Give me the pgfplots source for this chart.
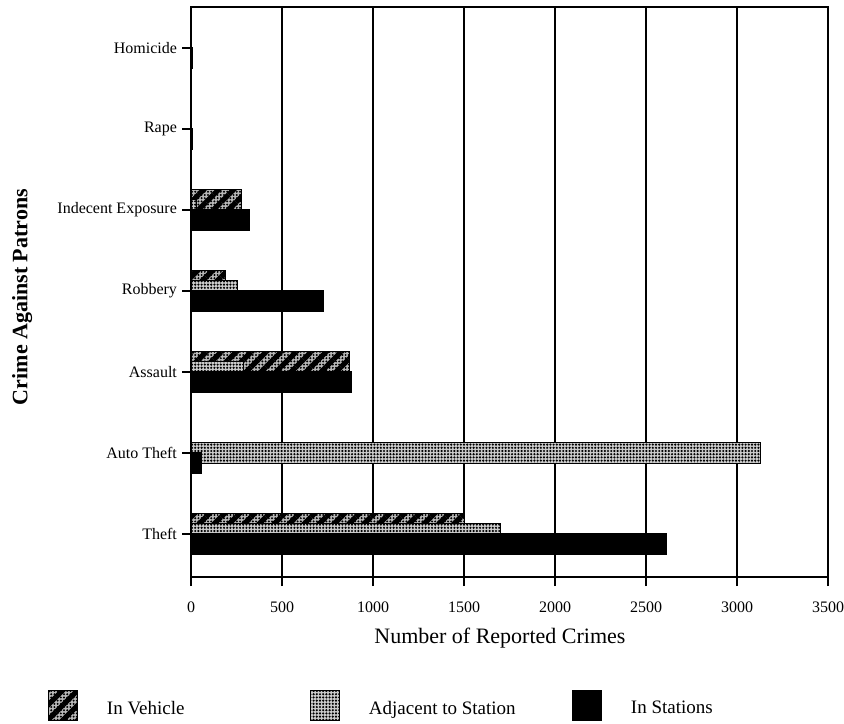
\documentclass[border=0pt]{standalone}
\usepackage{fontspec}
\setmainfont{Liberation Serif}
\usepackage{pgfplots}
\pgfplotsset{compat=1.18}
\usetikzlibrary{patterns.meta}

% Reported crimes by location (value per category, Theft = 0 ... Homicide = 6)
\pgfplotstableread{
y  val
0  1500
1  0
2  870
3  190
4  275
5  4
6  5
}\invehicle
\pgfplotstableread{
y  val
0  1700
1  3130
2  290
3  255
4  30
5  2
6  3
}\adjacent
\pgfplotstableread{
y  val
0  2610
1  60
2  880
3  730
4  320
5  6
6  8
}\instations

\tikzset{
  vehiclefill/.style={draw=black, line width=0.5pt, fill=gray!55,
    postaction={pattern={Dots[distance=1.6pt,radius=0.55pt]}, pattern color=black},
    postaction={pattern={Lines[angle=45,distance=5.3pt,line width=2.6pt]}, pattern color=black}},
  adjacentfill/.style={draw=black, line width=0.5pt, fill=gray!40,
    postaction={pattern={Dots[distance=1.6pt,radius=0.6pt]}, pattern color=black}},
  stationfill/.style={draw=black, line width=0.5pt, fill=black},
}

\begin{document}
\begin{tikzpicture}
\path[use as bounding box] (0,0) rectangle (422pt,361.5pt);
\begin{axis}[
  at={(95.5pt,73pt)}, anchor=south west,
  scale only axis, width=318.5pt, height=285pt,
  xmin=0, xmax=3500, ymin=-0.53, ymax=6.506,
  xtick={0,500,...,3500},
  ytick={0,1,2,3,4,5,6},
  yticklabels={Theft, Auto Theft, Assault, Robbery, Indecent Exposure, Rape, Homicide},
  xbar, bar width=0.26,
  xmajorgrids, major grid style={black, line width=0.6pt},
  axis line style={black, line width=0.8pt},
  tick align=outside, xtick pos=lower, ytick pos=left,
  major tick length=4.5pt,
  tick style={black, line width=0.6pt},
  scaled x ticks=false,
  /pgf/number format/1000 sep={},
  /pgf/number format/assume math mode=true,
  xticklabel style={font=\fontsize{8}{9}\selectfont, yshift=-4.5pt},
  yticklabel style={font=\fontsize{8}{9}\selectfont, xshift=1pt},
  xlabel={Number of Reported Crimes},
  xlabel style={font=\fontsize{11}{13}\selectfont, at={(axis description cs:0.485,-0.108)}, anchor=center},
  ylabel={Crime Against Patrons},
  ylabel style={font=\bfseries\fontsize{11}{13}\selectfont, at={(axis description cs:-0.265,0.491)}, anchor=center},
  legend columns=3,
  legend style={draw=none, fill=none, at={(axis description cs:-0.2245,-0.2246)}, anchor=west,
    inner sep=0pt, outer sep=0pt,
    nodes={inner sep=0pt, font=\fontsize{9.5}{11}\selectfont},
    /tikz/every odd column/.style={column sep=14.5pt},
    /tikz/every even column/.style={column sep=0pt}},
  legend image code/.code={\draw[#1] (0pt,-5.5pt) rectangle (14.5pt,9.5pt);},
]
\addplot[vehiclefill, bar shift=0.12] table[x=val, y=y] {\invehicle};
\addlegendentry{\makebox[101.5pt][l]{In Vehicle}}
\addplot[adjacentfill, bar shift=0] table[x=val, y=y] {\adjacent};
\addlegendentry{\makebox[101.5pt][l]{Adjacent to Station}}
\addplot[stationfill, bar shift=-0.125] table[x=val, y=y] {\instations};
\addlegendentry{\makebox[101.5pt][l]{In Stations}}
\end{axis}
\end{tikzpicture}
\end{document}
